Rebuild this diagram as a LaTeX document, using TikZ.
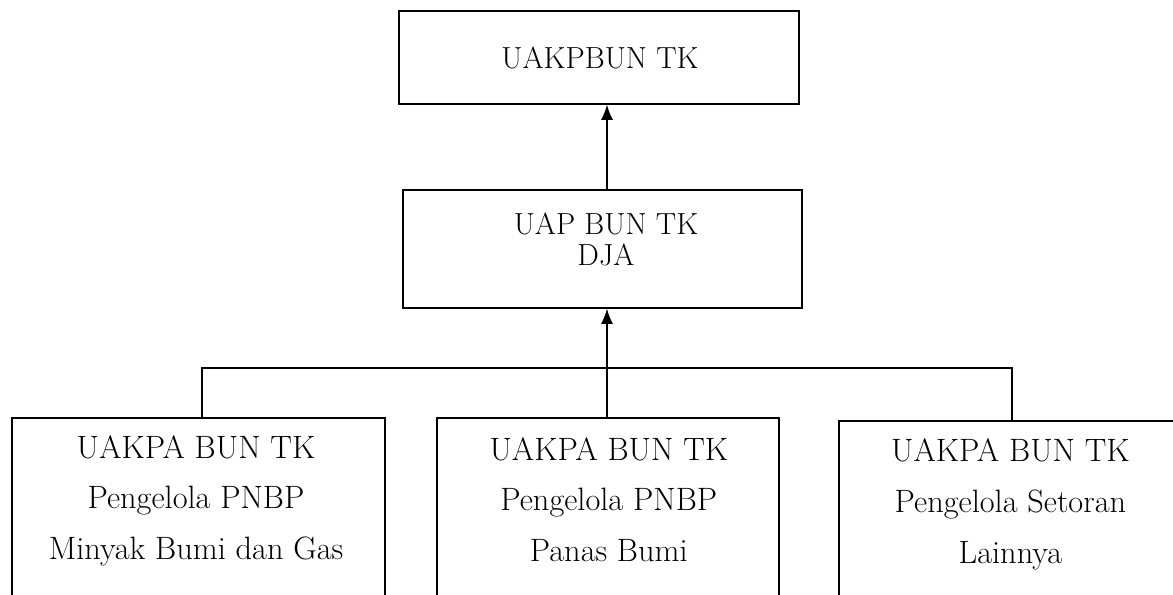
\documentclass[tikz,border=0pt]{standalone}
\usepackage{tikz}
\usetikzlibrary{arrows.meta}

\begin{document}
\begin{tikzpicture}[>={Latex[length=3.8mm, width=3mm]}]
	\tikzset{
		block/.style = {rectangle, draw, line width=1pt, inner sep=0pt},
		txt/.style = {align=center, inner sep=0pt, anchor=north},
		wire/.style = {black, line width=1pt}
	}
	\useasboundingbox (0, 0) rectangle (29.325, 14.875);
	\clip (0, 0) rectangle (29.325, 14.875);

	% boxes
	\node[block, minimum width=10cm, minimum height=2.325cm] (top) at (14.975, 13.4375) {};
	\node[block, minimum width=9.975cm, minimum height=2.95cm] (mid) at (15.0625, 8.65) {};
	\node[block, minimum width=9.325cm, minimum height=5.55cm] (uakpa1) at (4.9625, 1.65) {};
	\node[block, minimum width=8.55cm, minimum height=5.55cm] (uakpa2) at (15.2, 1.65) {};
	\node[block, minimum width=8.55cm, minimum height=5.475cm] (uakpa3) at (25.25, 1.6125) {};

	% texts
	\node[txt, font=\fontsize{21.7}{21}\selectfont] (ttop) at (15, 13.72) {UAKPBUN TK};
	\node[txt, font=\fontsize{21.7}{21.5}\selectfont] (tmid) at (15.15, 9.55) {UAP BUN TK\\DJA};
	\node[txt, font=\fontsize{23}{36}\selectfont] (t1) at (4.9, 4.0)
		{UAKPA BUN TK\\Pengelola PNBP\\Minyak Bumi dan Gas};
	\node[txt, font=\fontsize{23}{36}\selectfont] (t2) at (15.22, 3.95)
		{UAKPA BUN TK\\Pengelola PNBP\\Panas Bumi};
	\node[txt, font=\fontsize{23}{36.5}\selectfont] (t3) at (25.26, 3.925)
		{UAKPA BUN TK\\Pengelola Setoran\\Lainnya};

	% connectors
	\coordinate (busL) at (5.05, 5.675);
	\coordinate (bus) at (15.175, 5.675);
	\coordinate (busR) at (25.3, 5.675);
	\draw[wire] (busL |- uakpa1.north) -- (busL) -- (busR) -- (busR |- uakpa3.north);
	\draw[wire] (bus) -- (bus |- uakpa2.north);
	\draw[wire, ->] (bus) -- (bus |- mid.south);
	\draw[wire, ->] (bus |- mid.north) -- (bus |- top.south);
\end{tikzpicture}
\end{document}
